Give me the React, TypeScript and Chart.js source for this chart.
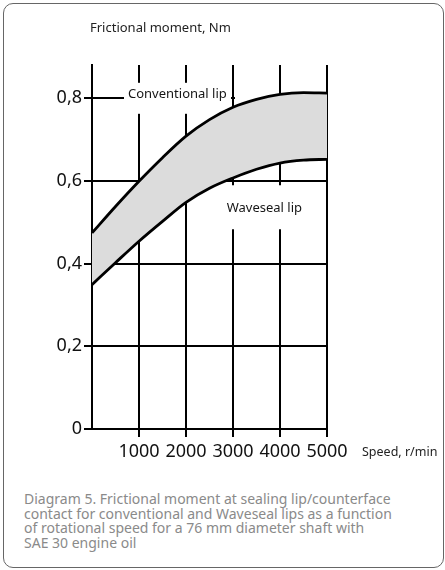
import React, { useEffect, useRef } from "react";
import { Chart, registerables } from "chart.js";

Chart.register(...registerables);

const speeds = [0, 500, 1000, 1500, 2000, 2500, 3000, 3500, 4000, 4500, 5000];
const conventional = [0.474, 0.538, 0.599, 0.656, 0.708, 0.748, 0.778, 0.797, 0.809, 0.813, 0.812];
const waveseal = [0.349, 0.402, 0.454, 0.502, 0.548, 0.582, 0.607, 0.628, 0.643, 0.65, 0.652];
const xTicks = [0, 1000, 2000, 3000, 4000, 5000];
const xTickLabels = ["", "1000", "2000", "3000", "4000", "5000"];
const yTicks = [0, 0.2, 0.4, 0.6, 0.8];
const yTickLabels = ["0", "0,2", "0,4", "0,6", "0,8"];
const seriesNames = ["Conventional lip", "Waveseal lip"];
const yTitle = "Frictional moment, Nm";
const xTitle = "Speed, r/min";
const caption = [
  "Diagram 5. Frictional moment at sealing lip/counterface",
  "contact for conventional and Waveseal lips as a function",
  "of rotational speed for a 76 mm diameter shaft with",
  "SAE 30 engine oil",
];

const FONT = "'Noto Sans', 'DejaVu Sans', sans-serif";

const annotPlugin = {
  id: "annot",
  beforeDatasetsDraw(chart: any) {
    const { ctx, scales } = chart;
    const x = scales.x;
    const y = scales.y;
    ctx.save();
    ctx.fillStyle = "#ffffff";
    // box behind "Conventional lip"
    const cx = x.getPixelForValue(766);
    const cy = y.getPixelForValue(0.8007);
    ctx.fillRect(cx - 4, cy - 15, 107, 31);
    // gap in 0.8 line after label
    ctx.fillRect(x.getPixelForValue(3000) + 2, y.getPixelForValue(0.8) - 3, 30, 6);
    // box behind "Waveseal lip"
    const wx = x.getPixelForValue(2866);
    const wy = y.getPixelForValue(0.524);
    ctx.fillRect(wx - 5, wy - 27, 84, 44);
    ctx.restore();
  },
  afterDraw(chart: any) {
    const { ctx, scales, chartArea } = chart;
    const x = scales.x;
    const y = scales.y;
    ctx.save();
    ctx.fillStyle = "#151515";
    ctx.textBaseline = "alphabetic";
    ctx.textAlign = "left";
    ctx.font = `13px ${FONT}`;
    ctx.fillText(seriesNames[0], x.getPixelForValue(766), y.getPixelForValue(0.8007));
    ctx.fillText(seriesNames[1], x.getPixelForValue(2866), y.getPixelForValue(0.524));
    ctx.font = `13px ${FONT}`;
    ctx.fillStyle = "#222";
    ctx.fillText(yTitle, chartArea.left - 2, 32);
    ctx.font = `12.5px ${FONT}`;
    ctx.fillText(xTitle, chartArea.right + 35, 456);
    ctx.restore();
  },
};

export default function App() {
  const canvasRef = useRef<HTMLCanvasElement | null>(null);

  useEffect(() => {
    if (!canvasRef.current) return;
    const chart = new Chart(canvasRef.current, {
      type: "line",
      data: {
        labels: speeds,
        datasets: [
          {
            label: seriesNames[0],
            data: speeds.map((s, i) => ({ x: s, y: conventional[i] })),
            borderColor: "#000",
            borderWidth: 2.8,
            backgroundColor: "#dcdcdc",
            fill: "+1",
            pointRadius: 0,
            cubicInterpolationMode: "monotone",
            order: 1,
          },
          {
            label: seriesNames[1],
            data: speeds.map((s, i) => ({ x: s, y: waveseal[i] })),
            borderColor: "#000",
            borderWidth: 2.8,
            fill: false,
            pointRadius: 0,
            cubicInterpolationMode: "monotone",
            order: 0,
          },
        ],
      },
      options: {
        animation: false,
        responsive: false,
        maintainAspectRatio: false,
        layout: { padding: { left: 40, top: 65, right: 118, bottom: 11 } },
        plugins: {
          legend: { display: false },
          tooltip: { enabled: false },
        },
        scales: {
          x: {
            type: "linear",
            min: 0,
            max: 5000,
            afterBuildTicks: (s: any) => {
              s.ticks = xTicks.map((v) => ({ value: v }));
            },
            afterFit: (s: any) => {
              s.height = 30;
            },
            ticks: {
              autoSkip: false,
              maxRotation: 0,
              padding: 4,
              color: "#111",
              font: { family: FONT, size: 18 },
              callback: (_v: any, i: number) => xTickLabels[i],
            },
            grid: {
              color: (c: any) => (c.tick && c.tick.value === 0 ? "rgba(0,0,0,0)" : "#000"),
              lineWidth: 2,
              tickLength: 8,
            },
            border: { display: true, color: "#000", width: 2 },
          },
          y: {
            type: "linear",
            min: 0,
            max: 0.88,
            afterBuildTicks: (s: any) => {
              s.ticks = yTicks.map((v) => ({ value: v }));
            },
            afterFit: (s: any) => {
              s.width = 52;
            },
            ticks: {
              padding: 2,
              color: "#111",
              font: { family: FONT, size: 18 },
              callback: (_v: any, i: number) => yTickLabels[i],
            },
            grid: {
              color: "#000",
              lineWidth: 2,
              tickLength: 8,
            },
            border: { display: true, color: "#000", width: 2 },
          },
        },
      },
      plugins: [annotPlugin],
    } as any);
    return () => chart.destroy();
  }, []);

  return (
    <>
      <div
        style={{
          position: "absolute",
          left: 3,
          top: 3,
          width: 441,
          height: 565,
          boxSizing: "border-box",
          border: "1px solid #666",
          borderRadius: 10,
          background: "#fff",
        }}
      />
      <canvas
        ref={canvasRef}
        width={445}
        height={470}
        style={{ position: "absolute", left: 0, top: 0, width: 445, height: 470, display: "block", zIndex: 1 }}
      />
      <div
        style={{
          position: "absolute",
          left: 24,
          top: 492,
          zIndex: 2,
          fontFamily: FONT,
          fontSize: 14,
          lineHeight: "14.5px",
          color: "#8a8a8a",
          whiteSpace: "nowrap",
        }}
      >
        {caption.map((line, i) => (
          <div key={i}>{line}</div>
        ))}
      </div>
    </>
  );
}
